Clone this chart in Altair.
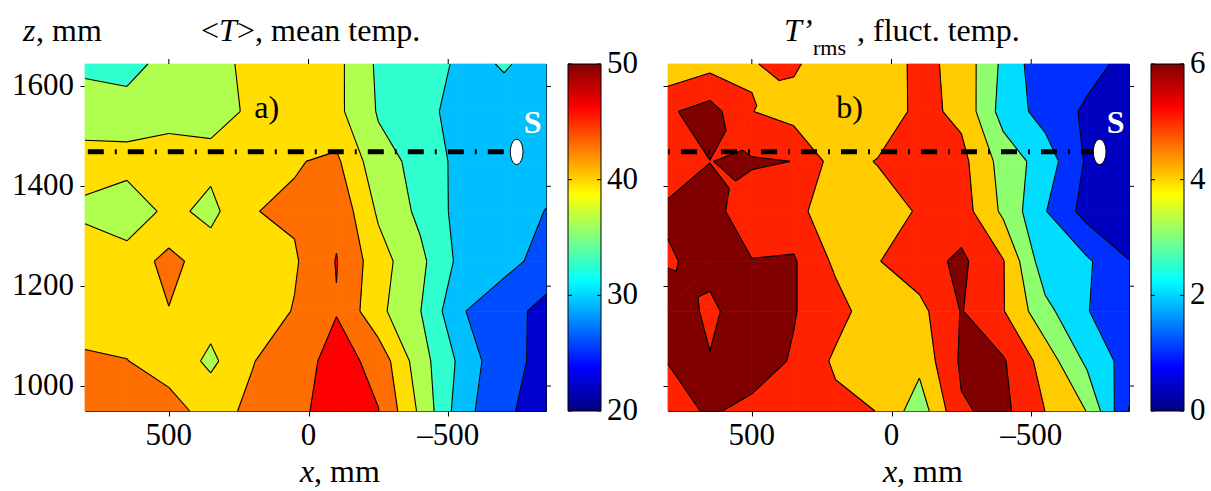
import altair as alt
import numpy as np
import pandas as pd

# ---------------- data ----------------
X_MM = [800, 650, 500, 350, 200, 50, -100, -250, -400, -550, -700, -850]
Z_MM = [1645, 1550, 1450, 1350, 1250, 1150, 1050, 950]          # top -> bottom

# mean temperature <T>, rows follow Z_MM, columns follow X_MM
MEAN_T = [
    [33.8, 33.6, 35.4, 36.5, 39.1, 40.0, 38.96, 33.89, 32.5, 30.39, 31.16, 30.32],
    [36.1, 35.5, 36.5, 36.8, 38.5, 40.0, 38.9, 34.2, 32.0, 29.8, 30.3, 30.0],
    [39.4, 39.6, 39.9, 39.0, 39.5, 41.25, 42.15, 35.65, 33.6, 29.66, 29.5, 29.0],
    [37.34, 35.4, 39.0, 37.0, 41.4, 42.0, 44.2, 37.47, 33.7, 29.67, 29.4, 27.4],
    [40.0, 39.8, 42.4, 40.0, 40.0, 41.1, 45.15, 39.45, 35.35, 29.85, 28.5, 26.4],
    [40.5, 40.5, 41.4, 39.5, 39.5, 41.7, 44.8, 38.9, 34.6, 27.7, 25.5, 22.8],
    [41.8, 41.55, 40.5, 37.2, 41.4, 43.0, 46.6, 43.75, 36.0, 30.0, 24.7, 23.4],
    [43.0, 42.8, 42.4, 40.6, 42.0, 43.0, 48.4, 45.1, 37.3, 28.8, 24.6, 22.4],
]

# fluctuating temperature T'rms
RMS_T = [
    [4.23, 4.67, 4.97, 5.15, 4.32, 4.27, 5.3, 4.67, 2.77, 1.23, 1.35, 0.7],
    [5.87, 6.4, 5.02, 4.6, 4.5, 4.23, 5.3, 4.76, 2.59, 1.61, 0.83, 0.5],
    [5.6, 5.99, 6.1, 5.99, 4.59, 5.05, 5.4, 5.3, 3.6, 2.53, 0.86, 0.5],
    [6.13, 6.3, 5.5, 5.4, 4.22, 4.5, 5.1, 5.47, 3.8, 2.05, 0.61, 0.4],
    [5.9, 6.3, 6.03, 6.1, 4.8, 4.95, 5.6, 6.2, 5.05, 2.36, 2.15, 1.02],
    [6.6, 5.8, 6.6, 6.05, 5.4, 4.35, 4.7, 6.05, 5.05, 3.3, 2.05, 1.2],
    [6.02, 6.05, 6.4, 5.92, 4.82, 4.5, 4.3, 6.15, 6.1, 4.57, 2.79, 1.56],
    [5.7, 6.09, 5.79, 5.6, 5.3, 4.98, 3.42, 5.9, 6.25, 4.99, 3.97, 0.94],
]

LEVELS_A = [24, 27.5, 31, 34.5, 38, 41.5, 45]
FILL_A = ["#0000CC", "#004DFF", "#00BFFF", "#31FFCF", "#B0FF4F", "#FFDE00", "#FF6E00", "#FF0000"]
LEVELS_B = [1, 2, 3, 4, 5, 6]
FILL_B = ["#0000C0", "#0030FF", "#00DDFF", "#8FFF70", "#FFCC00", "#FF2200", "#800000"]

CBAR_A = [20, 50]
CBAR_A_TICKS = [20, 30, 40, 50]
CBAR_A_LABELS = ["20", "30", "40", "50"]
CBAR_B = [0, 6]
CBAR_B_TICKS = [0, 2, 4, 6]
CBAR_B_LABELS = ["0", "2", "4", "6"]
JET = ["#000080", "#0000FF", "#00FFFF", "#FFFF00", "#FF0000", "#800000"]
JET_POS = [0.0, 0.125, 0.375, 0.625, 0.875, 1.0]

X_TICKS = [500, 0, -500]
X_LABELS = ["500", "0", "\u2013500"]
Z_TICKS = [1000, 1200, 1400, 1600]
Z_LABELS = ["1000", "1200", "1400", "1600"]
X_DOMAIN = [800, -850]
Z_DOMAIN = [950, 1645]

SOURCE = {"x": [-745], "z": [1469]}
DASH_A = {"x": [790], "x2": [-745], "z": [1469]}
DASH_B = {"x": [800], "x2": [-745], "z": [1469]}
S_LABEL = {"x": [-802], "z": [1527], "t": ["S"]}
LABEL_A = {"x": [150], "z": [1556], "t": ["a)"]}
LABEL_B = {"x": [150], "z": [1556], "t": ["b)"]}

W, H = 461, 347
FONT = "Liberation Serif"
LABEL_SIZE = 31


# ---------------- filled contour geometry (linear along cell edges) ----------------
def clip(poly, level, above):
    out = []
    n = len(poly)
    for i in range(n):
        a = poly[i]
        b = poly[(i + 1) % n]
        ina = a[2] >= level if above else a[2] < level
        inb = b[2] >= level if above else b[2] < level
        if ina:
            out.append(a)
        if ina != inb:
            t = (level - a[2]) / (b[2] - a[2])
            out.append((a[0] + t * (b[0] - a[0]), a[1] + t * (b[1] - a[1]), level, level))
    return out


def is_saddle(vals, levels):
    for L in levels:
        s = [v >= L for v in vals]
        if s[0] == s[2] and s[1] == s[3] and s[0] != s[1]:
            return True
    return False


def build(values, levels):
    V = np.array(values, dtype=float)
    rows, segs = [], []
    pid = 0
    nb = len(levels) + 1
    for r in range(len(Z_MM) - 1):
        for c in range(len(X_MM) - 1):
            cell = [(X_MM[c], Z_MM[r], V[r, c], None),
                    (X_MM[c + 1], Z_MM[r], V[r, c + 1], None),
                    (X_MM[c + 1], Z_MM[r + 1], V[r + 1, c + 1], None),
                    (X_MM[c], Z_MM[r + 1], V[r + 1, c], None)]
            if is_saddle([p[2] for p in cell], levels):
                ctr = (sum(p[0] for p in cell) / 4, sum(p[1] for p in cell) / 4,
                       sum(p[2] for p in cell) / 4, None)
                pieces = [[cell[i], cell[(i + 1) % 4], ctr] for i in range(4)]
            else:
                pieces = [cell]
            for piece in pieces:
                for b in range(nb):
                    poly = piece
                    if b > 0:
                        poly = clip(poly, levels[b - 1], True)
                    if len(poly) >= 3 and b < nb - 1:
                        poly = clip(poly, levels[b], False)
                    if len(poly) < 3:
                        continue
                    for k, p in enumerate(poly):
                        rows.append({"pid": pid, "k": k, "x": p[0], "z": p[1], "band": b})
                    pid += 1
                    if b > 0:
                        lo = levels[b - 1]
                        n = len(poly)
                        for i in range(n):
                            p, q = poly[i], poly[(i + 1) % n]
                            if p[3] == lo and q[3] == lo:
                                segs.append({"x": p[0], "z": p[1], "x2": q[0], "z2": q[1]})
    return pd.DataFrame(rows), pd.DataFrame(segs)


def txt(s, px, py, size=32, italic=False, align="left", weight="normal"):
    return alt.Chart(pd.DataFrame({"t": [s]})).mark_text(
        align=align, baseline="alphabetic", font=FONT, fontSize=size,
        fontStyle="italic" if italic else "normal", fontWeight=weight, color="black"
    ).encode(text="t:N", x=alt.value(px), y=alt.value(py))


def panel(values, levels, fills, dash, dash_offset, label, left_labels, cbar, cbar_ticks,
          cbar_labels, titles):
    pdf, sdf = build(values, levels)
    xsc = alt.Scale(domain=X_DOMAIN, nice=False, zero=False)
    zsc = alt.Scale(domain=Z_DOMAIN, nice=False, zero=False)
    xax = alt.Axis(values=X_TICKS, title=None, labels=False)
    zax = alt.Axis(values=Z_TICKS, title=None, labels=False)

    def X(f="x:Q"):
        return alt.X(f, scale=xsc, axis=xax)

    def Y(f="z:Q"):
        return alt.Y(f, scale=zsc, axis=zax)

    layers = []
    for b, col in enumerate(fills):
        layers.append(
            alt.Chart(pdf).transform_filter(alt.datum.band == b)
            .mark_line(interpolate="linear-closed", fill=col, stroke=col, strokeWidth=0.8, strokeJoin="round")
            .encode(x=X(), y=Y(), detail="pid:N", order="k:Q"))
    seg = alt.Chart(sdf).mark_rule(color="black", strokeWidth=1.1).encode(
        x=X(), y=Y(), x2="x2:Q", y2="z2:Q")
    xt = alt.Chart(pd.DataFrame({"x": X_TICKS})).mark_rule(color="black").encode(
        x=X(), y=alt.value(-5), y2=alt.value(0))
    zt = alt.Chart(pd.DataFrame({"z": Z_TICKS})).mark_rule(color="black").encode(
        y=Y(), x=alt.value(W), x2=alt.value(W + 5))
    xl = alt.Chart(pd.DataFrame({"x": X_TICKS, "t": X_LABELS})).mark_text(
        font=FONT, fontSize=LABEL_SIZE, baseline="top", align="center", color="black"
    ).encode(x=X(), y=alt.value(H + 10), text="t:N")
    extra = [xl]
    if left_labels:
        zl = alt.Chart(pd.DataFrame({"z": Z_TICKS, "t": Z_LABELS})).mark_text(
            font=FONT, fontSize=LABEL_SIZE, baseline="middle", align="right", color="black"
        ).encode(y=Y(), x=alt.value(-11), text="t:N")
        extra.append(zl)
    dl = alt.Chart(pd.DataFrame(dash)).mark_rule(
        color="black", strokeWidth=5, strokeDash=[16, 11, 2, 11], strokeDashOffset=dash_offset,
        strokeCap="butt").encode(x=X(), x2="x2:Q", y=Y())
    ell = alt.Chart(pd.DataFrame(SOURCE)).mark_point(
        shape="M0,-1A0.5,1 0 1,1 0,1A0.5,1 0 1,1 0,-1Z", size=640, filled=True,
        fill="white", stroke="black", strokeWidth=1, opacity=1).encode(x=X(), y=Y())
    sl = alt.Chart(pd.DataFrame(S_LABEL)).mark_text(
        font=FONT, fontSize=32, fontWeight="bold", color="white", baseline="middle"
    ).encode(x=X(), y=Y(), text="t:N")
    pl = alt.Chart(pd.DataFrame(label)).mark_text(
        font=FONT, fontSize=32, color="black", baseline="middle"
    ).encode(x=X(), y=Y(), text="t:N")
    inner = alt.layer(*layers, seg, xt, zt, *extra, dl, ell, sl, pl, *titles)

    csc = alt.Scale(domain=cbar, nice=False, zero=False)
    grad = alt.Gradient(gradient="linear",
                        stops=[alt.GradientStop(color=c, offset=o) for c, o in zip(JET, JET_POS)],
                        x1=0, x2=0, y1=1, y2=0)
    cb = alt.Chart(pd.DataFrame({"lo": [cbar[0]], "hi": [cbar[1]]})).mark_rect(
        fill=grad, stroke="black", strokeWidth=1).encode(
        y=alt.Y("lo:Q", scale=csc, axis=None),
        y2="hi:Q", x=alt.value(483), x2=alt.value(516))
    ctl = alt.Chart(pd.DataFrame({"lo": cbar_ticks})).mark_rule(color="black").encode(
        y=alt.Y("lo:Q", scale=csc, axis=None), x=alt.value(483), x2=alt.value(487))
    ctr = alt.Chart(pd.DataFrame({"lo": cbar_ticks})).mark_rule(color="black").encode(
        y=alt.Y("lo:Q", scale=csc, axis=None), x=alt.value(512), x2=alt.value(516))
    clab = alt.Chart(pd.DataFrame({"lo": cbar_ticks, "t": cbar_labels})).mark_text(
        font=FONT, fontSize=LABEL_SIZE, baseline="middle", align="left", color="black"
    ).encode(y=alt.Y("lo:Q", scale=csc, axis=None), x=alt.value(522), text="t:N")
    cbl = alt.layer(cb, ctl, ctr, clab)
    return alt.layer(inner, cbl).resolve_scale(y="independent").properties(width=W, height=H)


titles_a = [
    txt("z", -62, -23, italic=True), txt(", mm", -49, -23),
    txt("<", 116, -23), txt("T", 134, -23, italic=True), txt(">, mean temp.", 152, -23),
    txt("x", 215, H + 71, italic=True), txt(", mm", 229, H + 71),
]
titles_b = [
    txt("T\u2019", 116, -23, italic=True), txt("rms", 145, -9, size=22),
    txt(", fluct. temp.", 189, -23),
    txt("x", 215, H + 71, italic=True), txt(", mm", 229, H + 71),
]

pa = panel(MEAN_T, LEVELS_A, FILL_A, DASH_A, 0, LABEL_A, True, CBAR_A, CBAR_A_TICKS,
           CBAR_A_LABELS, titles_a)
pb = panel(RMS_T, LEVELS_B, FILL_B, DASH_B, 27, LABEL_B, False, CBAR_B, CBAR_B_TICKS,
           CBAR_B_LABELS, titles_b)

chart = alt.hconcat(pa, pb, spacing=122, bounds="flush").properties(
    padding={"left": 11, "top": 14, "right": 5, "bottom": 2},
    background="white",
).configure(font=FONT).configure_view(stroke="black", strokeWidth=1).configure_axis(
    tickColor="black", tickSize=5, domain=False, grid=False,
)

chart.save("out.html", embed_options={"renderer": "svg", "actions": False})
